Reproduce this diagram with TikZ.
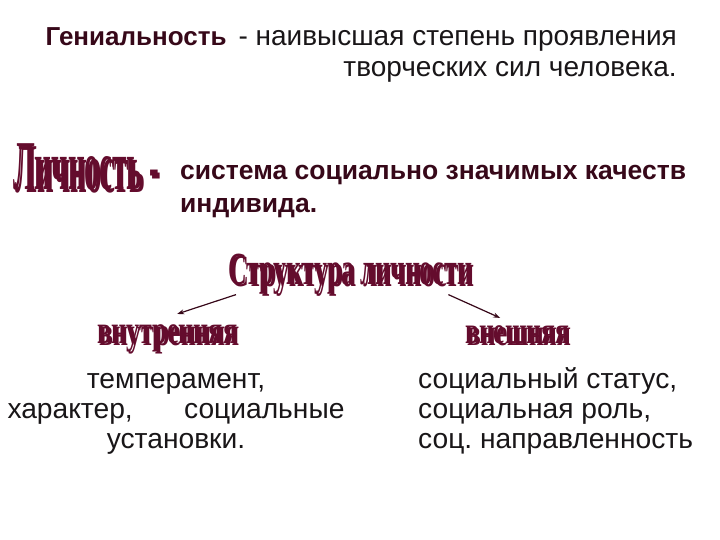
\documentclass[tikz,border=0pt]{standalone}
\usepackage{fontspec}
\setmainfont{Liberation Sans}
\newfontfamily\waserif{Liberation Serif}
\usetikzlibrary{arrows.meta}
\definecolor{maroon}{RGB}{100,12,45}
\definecolor{darkmaroon}{RGB}{55,8,25}
\definecolor{shadowc}{RGB}{165,160,162}
\definecolor{bodyc}{RGB}{25,22,24}
\newsavebox\wabox
\newcommand{\wordart}[3]{\sbox\wabox{\resizebox{#1}{\height}{\fontsize{#2}{#2}\selectfont\waserif\bfseries #3}}\makebox[0pt][l]{\hspace{2.5pt}\raisebox{-2.5pt}{\color{shadowc}\usebox\wabox}}\usebox\wabox}
\tikzset{
  wa/.style={inner sep=0pt, anchor=base west, text=maroon},
  body/.style={inner sep=0pt, text=bodyc, font=\frenchspacing\fontsize{28.2}{30}\selectfont},
  conn/.style={draw=darkmaroon, line width=1.2pt, -{Stealth[length=7pt,width=5pt]}}
}
\begin{document}
\begin{tikzpicture}[x=1pt,y=-1pt]
\useasboundingbox[fill=white] (0,0) rectangle (720,540);
\node[body, align=right, anchor=base east, font=\frenchspacing\fontsize{28}{31}\selectfont] (genius) at (677,77)
  {{\fontsize{26}{31}\selectfont\bfseries\color{darkmaroon}Гениальность}\hspace{12pt}- наивысшая степень проявления\\творческих сил человека.};
\node[wa] (lich) at (13,190) {\wordart{146pt}{70}{Личность -}};
\node[body, align=left, anchor=base west, text=darkmaroon, font=\fontsize{26.5}{33}\selectfont\bfseries] (def) at (180,213)
  {система социально значимых качеств\\индивида.};
\node[wa] (struct) at (228,284) {\wordart{244pt}{46}{Структура личности}};
\node[wa] (inner) at (97,343) {\wordart{140pt}{40}{внутренняя}};
\node[wa] (outer) at (465,343) {\wordart{104pt}{38}{внешняя}};
\node[body, align=center, anchor=base] (innertxt) at (176,448)
  {темперамент,\\\makebox[337pt]{характер,\hfill социальные}\\установки.};
\node[body, align=left, anchor=base west] (outertxt) at (418,448)
  {социальный статус,\\социальная роль,\\соц. направленность};
\draw[conn] ([xshift=8pt,yshift=2pt]struct.south west) -- ([xshift=10pt,yshift=10pt]inner.north);
\draw[conn] ([xshift=-24pt,yshift=2pt]struct.south east) -- ([xshift=-17pt,yshift=7pt]outer.north);
\end{tikzpicture}
\end{document}
